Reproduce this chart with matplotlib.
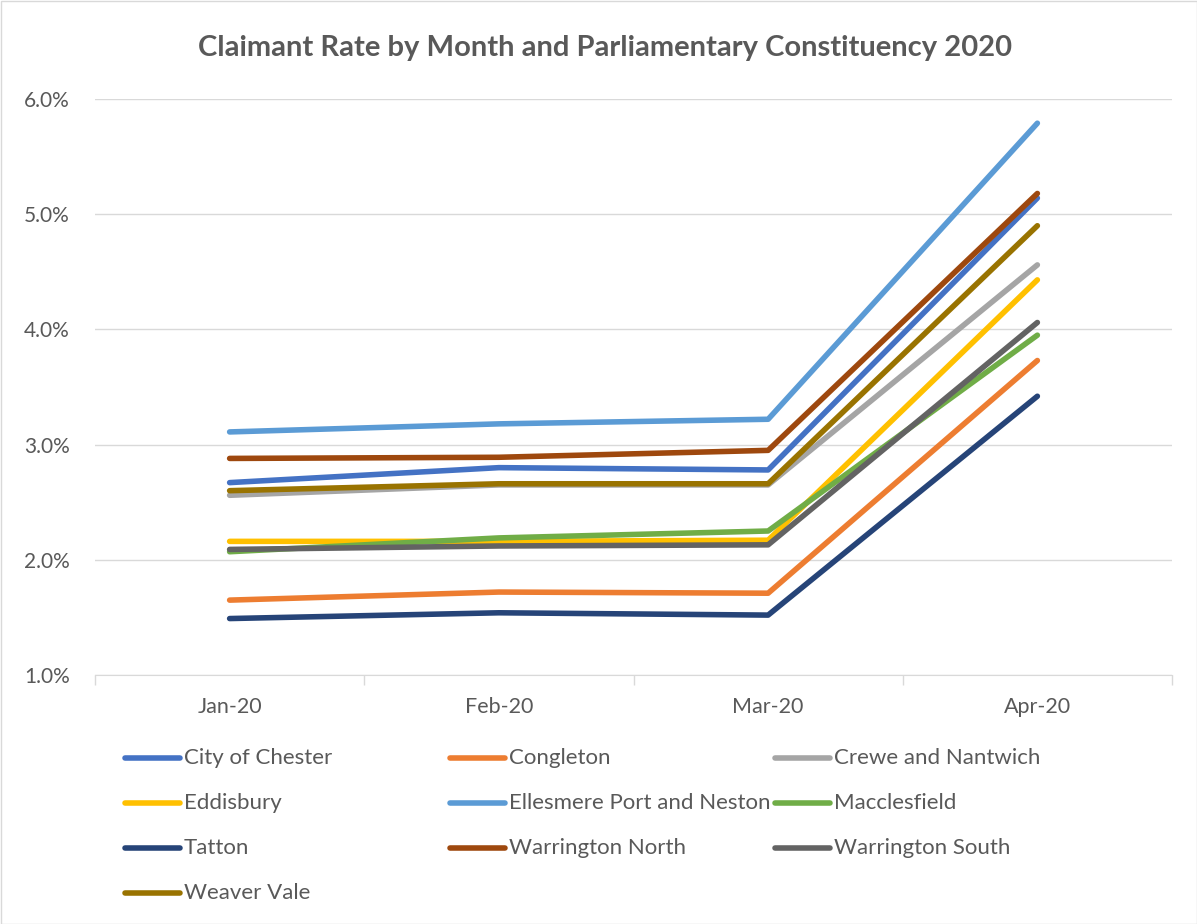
import matplotlib.pyplot as plt
from matplotlib.lines import Line2D
from matplotlib.patches import Rectangle
from matplotlib.ticker import FuncFormatter

plt.rcParams['font.family'] = ['Lato', 'DejaVu Sans']

months = ['Jan-20', 'Feb-20', 'Mar-20', 'Apr-20']
names = ['City of Chester', 'Congleton', 'Crewe and Nantwich', 'Eddisbury',
         'Ellesmere Port and Neston', 'Macclesfield', 'Tatton',
         'Warrington North', 'Warrington South', 'Weaver Vale']

city_of_chester = [2.67, 2.80, 2.78, 5.14]
congleton = [1.65, 1.72, 1.71, 3.73]
crewe_and_nantwich = [2.56, 2.65, 2.65, 4.56]
eddisbury = [2.16, 2.16, 2.17, 4.43]
ellesmere_port = [3.11, 3.18, 3.22, 5.79]
macclesfield = [2.07, 2.19, 2.25, 3.95]
tatton = [1.49, 1.54, 1.52, 3.42]
warrington_north = [2.88, 2.89, 2.95, 5.18]
warrington_south = [2.09, 2.12, 2.13, 4.06]
weaver_vale = [2.60, 2.66, 2.66, 4.90]

series = [city_of_chester, congleton, crewe_and_nantwich, eddisbury, ellesmere_port,
          macclesfield, tatton, warrington_north, warrington_south, weaver_vale]
colors = ['#4472C4', '#ED7D31', '#A5A5A5', '#FFC000', '#5B9BD5',
          '#70AD47', '#264478', '#9E480E', '#636363', '#997300']

W, H = 1197, 924
fig = plt.figure(figsize=(W / 100, H / 100), dpi=100)
ax = fig.add_axes([95 / W, 1 - 675 / H, (1172 - 95) / W, (675 - 99) / H])

x = list(range(len(months)))
for vals, c in zip(series, colors):
    ax.plot(x, vals, color=c, lw=4, solid_capstyle='round', solid_joinstyle='round',
            clip_on=False)

ax.set_xlim(-0.5, len(months) - 0.5)
ax.set_ylim(1, 6)
ax.set_yticks([1, 2, 3, 4, 5, 6])
ax.yaxis.set_major_formatter(FuncFormatter(lambda v, p: f'{v:.1f}%'))
ax.set_xticks(x)
ax.set_xticklabels(months)
ax.set_xticks([i - 0.5 for i in range(len(months) + 1)], minor=True)
ax.tick_params(axis='x', which='major', length=0, pad=16, labelsize=15.5, labelcolor='#595959')
ax.tick_params(axis='x', which='minor', length=7, width=1, color='#D9D9D9')
ax.tick_params(axis='y', length=0, pad=18, labelsize=15, labelcolor='#595959')
ax.grid(axis='y', color='#D9D9D9', lw=1)
ax.set_axisbelow(True)
for s in ['top', 'left', 'right']:
    ax.spines[s].set_visible(False)
ax.spines['bottom'].set_color('#D9D9D9')
ax.spines['bottom'].set_zorder(0.5)

fig.text(605 / W, 1 - 48 / H, 'Claimant Rate by Month and Parliamentary Constituency 2020',
         ha='center', va='center', fontsize=21, fontweight='bold', color='#595959')

# legend laid out row by row like Excel
for i, (name, c) in enumerate(zip(names, colors)):
    row, col = divmod(i, 3)
    x0 = 125 + col * 325
    y0 = 758 + row * 45
    fig.add_artist(Line2D([x0 / W, (x0 + 55) / W], [1 - y0 / H, 1 - y0 / H], color=c, lw=4,
                          solid_capstyle='round', transform=fig.transFigure))
    fig.text((x0 + 59) / W, 1 - y0 / H, name, ha='left', va='center', fontsize=16,
             color='#595959')

fig.add_artist(Rectangle((0.5 / W, 0.5 / H), 1 - 1 / W, 1 - 1 / H, transform=fig.transFigure,
                         fill=False, ec='#D9D9D9', lw=1))

fig.savefig('out.png', dpi=100)
